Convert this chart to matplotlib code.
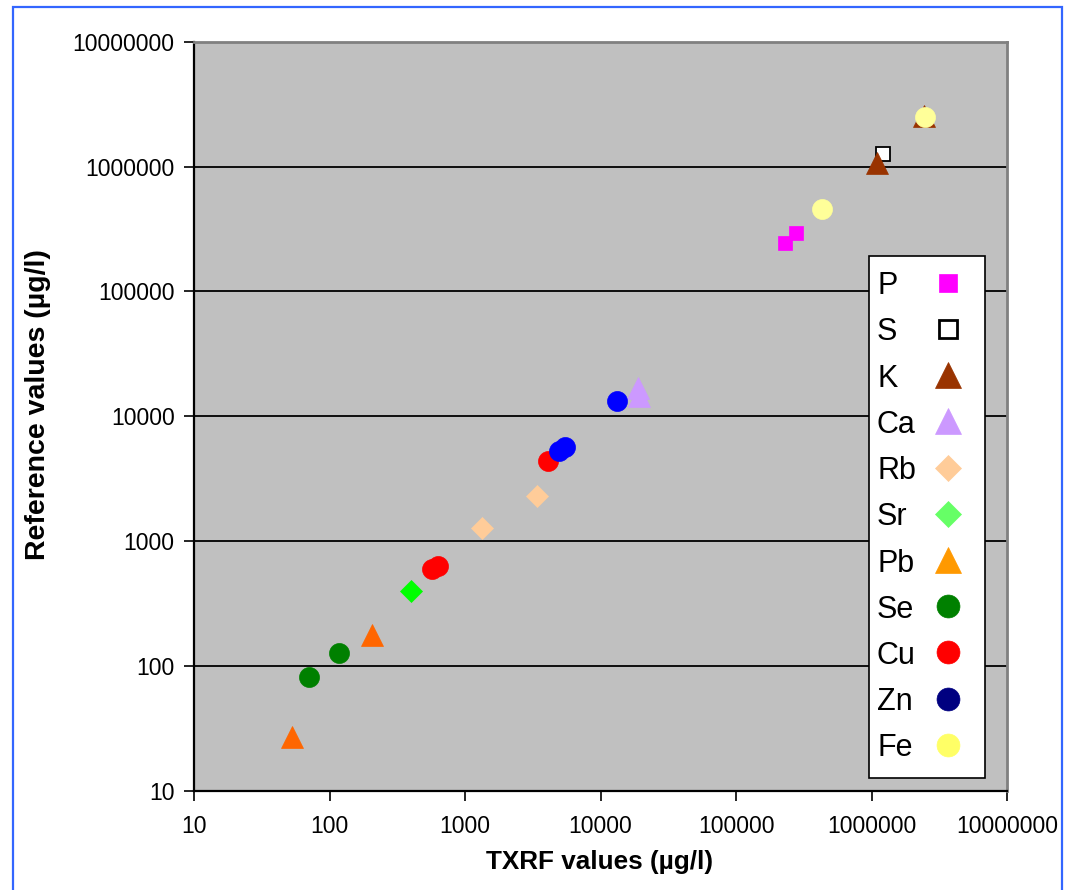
import matplotlib
matplotlib.use("Agg")
import matplotlib.pyplot as plt
from matplotlib.patches import Rectangle

plt.rcParams['font.family'] = ['Liberation Sans', 'DejaVu Sans']

# TXRF result vs. certified reference value (µg/l), per element
elements = ["P", "S", "K", "Ca", "Rb", "Sr", "Pb", "Se", "Cu", "Zn", "Fe"]
txrf = {
    "P":  [231000, 276000],
    "S":  [1216000],
    "K":  [1105000, 2440000],
    "Ca": [18900, 19200],
    "Rb": [1334, 3380],
    "Sr": [399],
    "Pb": [52.6, 206],
    "Se": [70.6, 118],
    "Cu": [568, 636, 4120],
    "Zn": [4940, 5470, 13300],
    "Fe": [428000, 2490000],
}
reference = {
    "P":  [244000, 296000],
    "S":  [1262000],
    "K":  [1074000, 2550000],
    "Ca": [17000, 14560],
    "Rb": [1280, 2317],
    "Sr": [402],
    "Pb": [27.1, 179],
    "Se": [81.9, 127],
    "Cu": [597, 634, 4416],
    "Zn": [5310, 5660, 13360],
    "Fe": [455000, 2480000],
}

markers = {"P": "s", "S": "s", "K": "^", "Ca": "^", "Rb": "D", "Sr": "D",
           "Pb": "^", "Se": "o", "Cu": "o", "Zn": "o", "Fe": "o"}
point_colors = {"P": "#FF00FF", "S": "#FFFFFF", "K": "#993300", "Ca": "#CC99FF",
                "Rb": "#FFCC99", "Sr": "#00FF00", "Pb": "#FF6600", "Se": "#008000",
                "Cu": "#FF0000", "Zn": "#0000FF", "Fe": "#FFFF99"}
legend_colors = {"P": "#FF00FF", "S": "#FFFFFF", "K": "#993300", "Ca": "#CC99FF",
                 "Rb": "#FFCC99", "Sr": "#66FF66", "Pb": "#FF9900", "Se": "#008000",
                 "Cu": "#FF0000", "Zn": "#000080", "Fe": "#FFFF66"}
sizes = {"s": 10.6, "^": 15.4, "D": 11.0, "o": 14.4}
legend_sizes = {"s": 13.5, "^": 18.7, "D": 13.2, "o": 16.5}

W, H = 1069, 890
fig = plt.figure(figsize=(W / 100, H / 100), dpi=100)
ax_l, ax_r, ax_t, ax_b = 194, 1007, 41.7, 791
ax = fig.add_axes([ax_l / W, 1 - ax_b / H, (ax_r - ax_l) / W, (ax_b - ax_t) / H])
ax.set_facecolor("#C0C0C0")

for el in elements:
    m = markers[el]
    edge = "black" if el == "S" else point_colors[el]
    ax.plot(txrf[el], reference[el], linestyle="none", marker=m,
            markersize=sizes[m], markerfacecolor=point_colors[el],
            markeredgecolor=edge, markeredgewidth=1.3 if el == "S" else 0.5,
            zorder=3)

ax.set_xscale("log")
ax.set_yscale("log")
ax.set_xlim(10, 1e7)
ax.set_ylim(10, 1e7)

decades = [10, 100, 1000, 10000, 100000, 1000000, 10000000]
ax.set_xticks(decades)
ax.set_yticks(decades)
ax.set_xticklabels([str(d) for d in decades])
ax.set_yticklabels([str(d) for d in decades])
ax.minorticks_off()
ax.tick_params(axis="both", which="major", direction="out", length=7,
               width=1.2, labelsize=16.5, colors="black")
ax.tick_params(axis="x", pad=10)
ax.tick_params(axis="y", pad=7)

ax.yaxis.grid(True, color="black", linewidth=1.3, zorder=1)
ax.xaxis.grid(False)
ax.set_axisbelow(True)

for side in ["left", "bottom"]:
    ax.spines[side].set_color("black")
    ax.spines[side].set_linewidth(1.6)
for side in ["top", "right"]:
    ax.spines[side].set_color("#808080")
    ax.spines[side].set_linewidth(2.0)

def ax_x(px):
    return (px - ax_l) / (ax_r - ax_l)

def ax_y(py):
    return (ax_b - py) / (ax_b - ax_t)

ax.set_xlabel("TXRF values (µg/l)", fontsize=18.8, fontweight="bold")
ax.xaxis.set_label_coords(ax_x(599), ax_y(850))
ax.set_ylabel("Reference values (µg/l)", fontsize=20.5, fontweight="bold")
ax.yaxis.set_label_coords(ax_x(51), ax_y(405))

# Legend box: element name on the left, its marker on the right
box_l, box_t, box_r, box_b = 869.3, 255.7, 985, 777.5
ax.add_patch(Rectangle((ax_x(box_l), ax_y(box_b)), ax_x(box_r) - ax_x(box_l),
                       ax_y(box_t) - ax_y(box_b), transform=ax.transAxes,
                       facecolor="white", edgecolor="black", linewidth=1.2,
                       zorder=5, clip_on=False))
row0, row_step = 282.8, 46.2
for i, el in enumerate(elements):
    cy = ax_y(row0 + i * row_step)
    ax.text(ax_x(877), cy, el, transform=ax.transAxes, fontsize=22,
            ha="left", va="center_baseline", zorder=6)
    m = markers[el]
    edge = "black" if el == "S" else legend_colors[el]
    ax.plot([ax_x(948)], [cy], transform=ax.transAxes, linestyle="none",
            marker=m, markersize=legend_sizes[m],
            markerfacecolor=legend_colors[el], markeredgecolor=edge,
            markeredgewidth=2.0 if el == "S" else 0.5, zorder=6, clip_on=False)

# Blue outline around the chart area
fig.patches.append(Rectangle((12.7 / W, -0.01), (1062 - 12.7) / W,
                             1 - 6.7 / H + 0.01, transform=fig.transFigure,
                             fill=False, edgecolor="#3366FF", linewidth=1.6))

fig.savefig("out.png", dpi=100)
